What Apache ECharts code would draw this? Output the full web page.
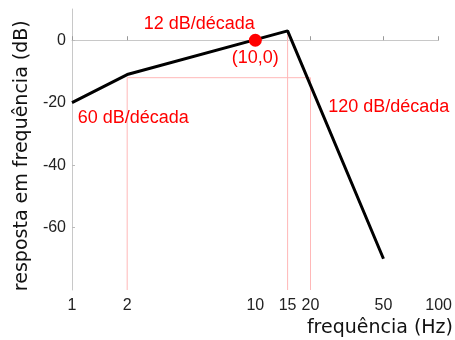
<!DOCTYPE html>
<html>
<head>
<meta charset="utf-8">
<script src="https://cdn.jsdelivr.net/npm/echarts@6/dist/echarts.min.js"></script>
<style>
  html, body { margin: 0; padding: 0; background: #fff; }
  #chart { width: 455px; height: 340px; }
</style>
</head>
<body>
<div id="chart"></div>
<script>
// Asymptotic frequency response (piecewise straight segments on a log axis)
const freqHz = [1, 2, 15, 50];
const responseDb = [-20, -11, 3, -70];

// Tick values
const xTicks = [1, 2, 10, 15, 20, 50, 100];
const yTicks = [-60, -40, -20, 0];

// Guide lines at the corner frequencies
const guideLevelDb = -12;
const guideFloorDb = -80;
const guide2Hz = [[2, guideFloorDb], [2, guideLevelDb], [20, guideLevelDb], [20, guideFloorDb]];
const guide15Hz = [[15, guideFloorDb], [15, 3]];

// Marked point
const markedPoint = [10, 0];
const markedLabel = '(10,0)';

// Slope annotations: [frequency, level, text]
const slopeNotes = [
  [4.94, 5.2, '12 dB/década'],
  [2.16, -24.9, '60 dB/década'],
  [53.4, -21.3, '120 dB/década']
];

const red = '#ff0000';
const guideColor = '#ffb8b8';
const axisGray = '#c8c8c8';

const chart = echarts.init(document.getElementById('chart'), null, { renderer: 'canvas' });

chart.setOption({
  animation: false,
  grid: { left: 72, right: 16, top: 9, bottom: 50, containLabel: false },
  xAxis: {
    type: 'log',
    logBase: 10,
    min: 1,
    max: 100,
    axisLine: { show: true, lineStyle: { color: axisGray, width: 1 } },
    axisTick: { show: true, inside: true, length: 4, customValues: xTicks, lineStyle: { color: '#999' } },
    minorTick: { show: false },
    axisLabel: {
      customValues: xTicks,
      margin: 8,
      color: '#222',
      fontFamily: 'Liberation Sans, Arial, sans-serif',
      fontSize: 16,
      formatter: v => String(v)
    },
    splitLine: { show: false }
  },
  yAxis: {
    type: 'value',
    min: -80,
    max: 10,
    axisLine: { show: true, lineStyle: { color: axisGray, width: 1 } },
    axisTick: { show: true, inside: true, length: 3, customValues: yTicks, lineStyle: { color: '#bbb' } },
    axisLabel: {
      customValues: yTicks,
      margin: 6,
      color: '#222',
      fontFamily: 'Liberation Sans, Arial, sans-serif',
      fontSize: 16
    },
    splitLine: { show: false }
  },
  graphic: [
    {
      type: 'text',
      x: 453,
      y: 328,
      style: {
        text: 'frequência (Hz)',
        font: '19px "DejaVu Sans"',
        fill: '#111',
        align: 'right',
        verticalAlign: 'middle'
      }
    },
    {
      type: 'text',
      x: 21.7,
      y: 155.7,
      rotation: Math.PI / 2,
      style: {
        text: 'resposta em frequência (dB)',
        font: '19px "DejaVu Sans"',
        fill: '#111',
        align: 'center',
        verticalAlign: 'middle'
      }
    }
  ],
  series: [
    {
      type: 'line',
      data: guide2Hz,
      showSymbol: false,
      silent: true,
      lineStyle: { color: guideColor, width: 1 },
      z: 1
    },
    {
      type: 'line',
      data: guide15Hz,
      showSymbol: false,
      silent: true,
      lineStyle: { color: guideColor, width: 1 },
      z: 1
    },
    {
      type: 'line',
      data: freqHz.map((f, i) => [f, responseDb[i]]),
      showSymbol: false,
      lineStyle: { color: '#000', width: 3 },
      z: 3
    },
    {
      type: 'scatter',
      data: [markedPoint],
      symbolSize: 13,
      itemStyle: { color: red, opacity: 1 },
      label: {
        show: true,
        position: 'bottom',
        distance: 2,
        formatter: markedLabel,
        color: red,
        fontFamily: 'Liberation Sans, Arial, sans-serif',
        fontSize: 18
      },
      z: 4
    },
    {
      type: 'scatter',
      data: slopeNotes.map(n => ({ value: [n[0], n[1]], name: n[2] })),
      symbolSize: 0,
      itemStyle: { color: red, opacity: 1 },
      label: {
        show: true,
        position: 'inside',
        formatter: p => p.name,
        color: red,
        textBorderWidth: 0,
        textBorderColor: 'transparent',
        fontFamily: 'Liberation Sans, Arial, sans-serif',
        fontSize: 18
      },
      z: 5
    }
  ]
});
</script>
</body>
</html>
